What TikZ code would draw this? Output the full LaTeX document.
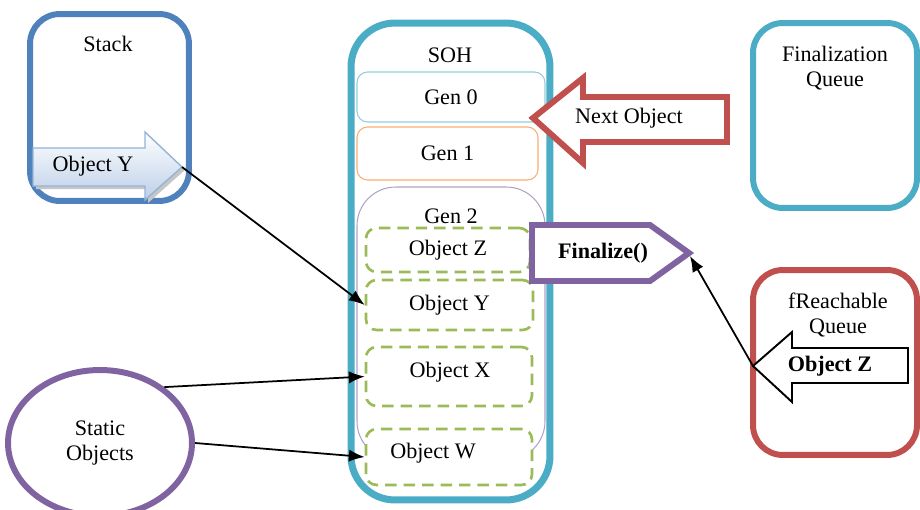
\documentclass[tikz,border=0pt]{standalone}
\usepackage{fontspec}
\setmainfont{Liberation Serif}
\usetikzlibrary{shapes.geometric,arrows.meta}
\definecolor{stackblue}{RGB}{79,129,189}
\definecolor{sohteal}{RGB}{75,172,198}
\definecolor{gencyan}{RGB}{146,205,220}
\definecolor{genorange}{RGB}{250,172,112}
\definecolor{genpurple}{RGB}{179,162,199}
\definecolor{objgreen}{RGB}{155,187,89}
\definecolor{nextred}{RGB}{192,80,77}
\definecolor{finpurple}{RGB}{128,100,162}
\definecolor{arrowblue}{RGB}{149,179,215}
\definecolor{shadeblue}{RGB}{188,207,232}
\begin{document}
\begin{tikzpicture}[x=0.02cm, y=-0.02cm, font=\fontsize{12.6}{14.5}\selectfont,
   heavybox/.style={draw, line width=3.4pt, rounded corners=17pt, inner sep=0pt},
   genbox/.style={draw, line width=0.6pt, rounded corners=6pt, inner sep=0pt},
   objbox/.style={draw=objgreen, line width=1.5pt, dash pattern=on 6.5pt off 4pt,
                  rounded corners=6pt, inner sep=0pt},
   blockarrow/.style={line width=3.4pt, line join=miter, fill=white},
   link/.style={-{Latex[length=9pt,width=7pt]}, line width=1pt}]
   \useasboundingbox (0,0) rectangle (920,510);

   % left column
   \node[heavybox, draw=stackblue, minimum width=3.18cm, minimum height=3.74cm] (stack) at (109.5,107.5) {};
   \node (stacklbl) at (108,44) {Stack};
   \fill[gray!45] (36,151) -- (148,151) -- (148,135) -- (185,170) -- (148,203) -- (148,189) -- (36,189) -- cycle;
   \draw[arrowblue, line width=0.8pt, top color=white, bottom color=shadeblue]
      (33,148) -- (145,148) -- (145,132) -- (182,167) -- (145,200) -- (145,186) -- (33,186) -- cycle;
   \node (objyarrow) at (93,166) {Object Y};
   \coordinate (ytip) at (182,167);
   \node[ellipse, draw=finpurple, line width=3.4pt, minimum width=3.68cm, minimum height=2.92cm,
         align=center, inner sep=0pt] (static) at (100,443) {Static\\Objects};

   % SOH
   \node[heavybox, draw=sohteal, line width=4pt, rounded corners=25pt, minimum width=3.98cm, minimum height=9.54cm] (soh) at (450.5,261.5) {};
   \node (sohlbl) at (450,55) {SOH};
   \node[genbox, draw=gencyan, minimum width=3.76cm, minimum height=1cm] (gen0) at (451,97) {Gen 0};
   \node[genbox, draw=genorange, minimum width=3.62cm, minimum height=1.06cm] (gen1) at (447.5,153.5) {Gen 1};
   \node[genbox, draw=genpurple, rounded corners=22pt, minimum width=3.76cm, minimum height=5.46cm] (gen2) at (451,323.5) {};
   \node (gen2lbl) at (451,216) {Gen 2};
   \node[objbox, fill=white, minimum width=3.28cm, minimum height=0.88cm] (objz) at (448,250) {Object Z};
   \node[objbox, fill=white, minimum width=3.34cm, minimum height=1cm] (objy) at (449.5,305) {Object Y};
   \node[objbox, fill=white, minimum width=3.32cm, minimum height=1.18cm] (objx) at (449,376.5) {};
   \node (objxlbl) at (450,372) {Object X};
   \node[objbox, fill=white, minimum width=3.32cm, minimum height=1.12cm] (objw) at (449,457) {};
   \node (objwlbl) at (433,453) {Object W};

   % block arrows
   \draw[blockarrow, draw=nextred] (533,118) -- (583,78) -- (583,97) -- (727,97) -- (727,142) -- (583,142) -- (583,163) -- cycle;
   \node (nextlbl) at (629,118) {Next Object};
   \draw[blockarrow, draw=finpurple] (532,225) -- (650,225) -- (689,253) -- (650,281) -- (532,281) -- cycle;
   \node[font=\fontsize{12.6}{14.5}\selectfont\bfseries] (finlbl) at (603,253) {Finalize()};
   \coordinate (fintip) at (690,256);

   % right column
   \node[heavybox, draw=sohteal, minimum width=3.28cm, minimum height=3.7cm] (finq) at (835,115.5) {};
   \node[align=center] (finqlbl) at (835,68) {Finalization\\Queue};
   \node[heavybox, draw=nextred, minimum width=3.28cm, minimum height=3.7cm] (freach) at (835,362.5) {};
   \node[align=center] (freachlbl) at (838,315) {fReachable\\Queue};
   \draw[line width=1.1pt, line join=miter, fill=white] (753,366) -- (792,332) -- (792,348) -- (908,348) -- (908,383) -- (792,383) -- (792,402) -- cycle;
   \node[font=\fontsize{12.6}{14.5}\selectfont\bfseries] (zlbl) at (830,366) {Object Z};
   \coordinate (ztip) at (753,366);

   % references
   \draw[link] (ytip) -- (objy.west);
   \draw[link] (static.41) -- (objx.west);
   \draw[link] (static.east) -- (objw.west);
   \draw[link] (ztip) -- (fintip);
\end{tikzpicture}
\end{document}
